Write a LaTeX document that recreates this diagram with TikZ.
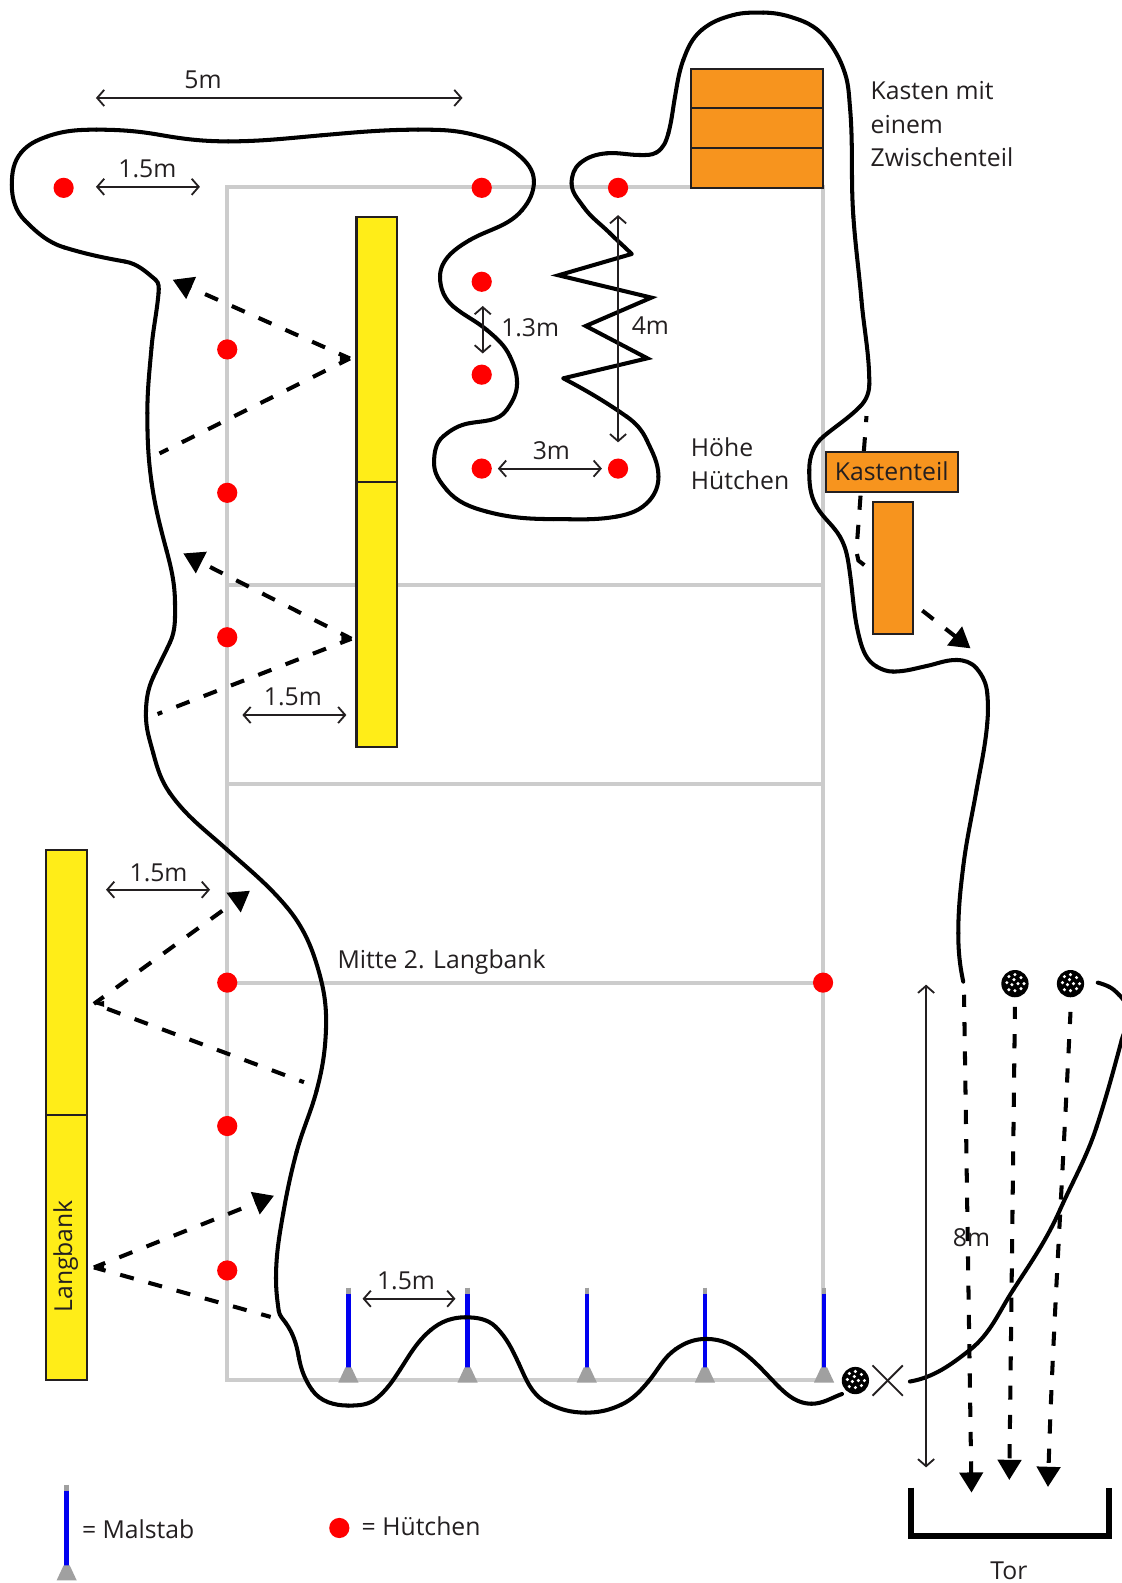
\documentclass[tikz,border=0pt]{standalone}
\usepackage{fontspec}
\setmainfont{Open Sans}
\usetikzlibrary{arrows.meta}
\definecolor{gridgrey}{RGB}{204,204,204}
\definecolor{boxorange}{RGB}{247,148,30}
\definecolor{benchyellow}{RGB}{255,237,24}
\definecolor{poleblue}{RGB}{0,0,240}
\definecolor{conegrey}{RGB}{160,160,160}
\definecolor{inkdark}{RGB}{35,31,32}
\tikzset{
  gridline/.style={draw=gridgrey,line width=4pt},
  route/.style={draw=black,line width=4pt,line join=round,line cap=round},
  dashroute/.style={draw=black,line width=4pt,dash pattern=on 14pt off 15pt,dash phase=2pt,-{Triangle[length=20pt,width=23pt]}},
  dashplain/.style={draw=black,line width=4pt,dash pattern=on 14pt off 15pt,dash phase=2pt},
  measure/.style={draw=inkdark,line width=1.8pt,{Straight Barb[length=7pt,width=16pt,line width=1.8pt]}-{Straight Barb[length=7pt,width=16pt,line width=1.8pt]}},
  hut/.style={circle,fill=red,inner sep=0pt,minimum size=20pt},
  orangebox/.style={draw=inkdark,line width=2pt,fill=boxorange,inner sep=0pt},
  bench/.style={draw=inkdark,line width=2pt,fill=benchyellow},
  lbl/.style={inner sep=0pt,text=inkdark,font=\fontsize{24.5}{28}\selectfont},
  lblleft/.style={lbl,anchor=west},
  ballnode/.style={circle,fill=black,inner sep=0pt,minimum size=27pt},
}
\newcommand{\ballat}[3]{%
  \node[ballnode] (#1) at (#2,#3) {};
  \foreach \dx/\dy in {-6/-7,0/-9,6/-6,-1/-4,-8/-1,-3/1,3/0,9/0,-6/6,0/7,6/5}
    \fill[white] (#2+\dx,#3+\dy) circle (1.7pt);
}
\newcommand{\poleat}[3]{%
  \draw[conegrey,line width=4.4pt] (#1,#2) -- (#1,#2+6);
  \draw[poleblue,line width=4.4pt] (#1,#2+6) -- (#1,#3-12);
  \fill[conegrey] (#1-3,#3-14) -- (#1+3,#3-14) -- (#1+10,#3+1) -- (#1-10,#3+1) -- cycle;
}
% knots: x/y/heading in degrees, y pointing down the page
\newcommand{\knotcurve}[1]{%
  \foreach \kx/\ky/\ka [count=\ki, remember=\kx as \lx (initially 0), remember=\ky as \ly (initially 0), remember=\ka as \la (initially 0)] in {#1} {
    \ifnum\ki>1
      \pgfmathsetmacro\kd{veclen(\kx-\lx,\ky-\ly)*0.36}
      \draw[route] (\lx,\ly) .. controls ({\lx+\kd*cos(\la)},{\ly+\kd*sin(\la)}) and ({\kx-\kd*cos(\ka)},{\ky-\kd*sin(\ka)}) .. (\kx,\ky);
    \fi
  }
}
\begin{document}
\begin{tikzpicture}[x=1pt,y=-1pt]
\useasboundingbox (0,0) rectangle (1111,1567.5);
% grid
\draw[gridline] (225,185) rectangle (815,1366);
\draw[gridline] (225,579) -- (815,579);
\draw[gridline] (225,776) -- (815,776);
\draw[gridline] (225,973) -- (815,973);
% poles
\poleat{345}{1275}{1368}
\poleat{463}{1275}{1368}
\poleat{581}{1275}{1368}
\poleat{698}{1275}{1368}
\poleat{816}{1275}{1368}
\poleat{66}{1470}{1564}
% dashed helpers
\coordinate (a1) at (346.5,355); \coordinate (a1u) at (171,277); \coordinate (a1d) at (158,449);
\coordinate (a2) at (348,632.5); \coordinate (a2u) at (181.5,548); \coordinate (a2d) at (156,707);
\coordinate (a3) at (93,994);  \coordinate (a3u) at (247.5,882); \coordinate (a3d) at (301,1071.6);
\coordinate (a4) at (93,1255); \coordinate (a4u) at (271.3,1184); \coordinate (a4d) at (268,1304);
\draw[dashroute] (a1) -- (a1u);
\draw[dashplain] (a1) -- (a1d);
\draw[dashroute] (a2) -- (a2u);
\draw[dashplain] (a2) -- (a2d);
\draw[dashroute] (a3) -- (a3u);
\draw[dashplain,dash phase=15pt] (a3) -- (a3d);
\draw[dashroute] (a4) -- (a4u);
\draw[dashplain] (a4) -- (a4d);
\fill (a1) -- ++(-10,-3) -- ++(0,6) -- cycle;
\fill (a2) -- ++(-10,-3) -- ++(0,6) -- cycle;
\fill (a3) -- ++(10,-3) -- ++(0,6) -- cycle;
\fill (a4) -- ++(10,-3) -- ++(0,6) -- cycle;
% right dashed
\coordinate (r1) at (858,412); \coordinate (r2) at (848,546); \coordinate (r3) at (850,555); \coordinate (r4) at (961,642);
\draw[dashroute,dash phase=8pt] (r1) -- (r2) -- (r3) -- (r4);
% route
\knotcurve{833.8/1380.3/160, 803.5/1390/180, 771/1373/225, 737/1340/218, 699.3/1325.8/180, 669/1336/145, 642/1368/130, 615/1391/155, 580/1398.8/180, 540/1388/210, 513.6/1350/245, 491/1314/225, 460.6/1304.4/180, 426.5/1317/140, 396/1356.5/123, 373/1384.6/140, 345/1391.8/180, 309/1376.3/235, 295.7/1343/260, 283/1310/235, 276/1298/262, 273.3/1265.7/270, 280.5/1201/280, 293.7/1140.6/285, 313.5/1080/285, 322.8/1019/272, 316.8/966/255, 283.8/898/230, 224.4/841/222, 168/785/235, 151.8/746/255, 144.5/708.3/270, 151.8/670.3/295, 168.3/636.2/295, 173.3/598.4/270, 165/545.4/255, 150/477/262, 145.9/409/270, 150/344.5/275, 157/290/275, 154/277/220, 123.8/259/190, 63.6/245/197, 24.8/218.5/225, 11.7/183/270, 21/151/310, 46/135.4/340, 95.5/128.4/0, 159/133.7/10, 226/140/0, 318/134/355, 414/128.4/0, 470/133.7/15, 513/153/40, 528.7/179.6/90, 517/208/130, 465.4/237.6/150, 435.7/274/90, 449/303.6/40, 482/326.7/40, 505/353/65, 512/379.5/90, 501.7/406/125, 465/419/170, 439/432/140, 429.8/458.7/90, 442.3/485/50, 482/506.6/15, 548/514/0, 610.6/511.5/350, 643.6/495/310, 652/472/270, 640.3/435.6/245, 620.5/412.5/215, 557.8/374.6/208}
\draw[route,line join=miter,line cap=butt] (557.8,374.6) -- (641,354.8) -- (580,322.8) -- (645,294.7) -- (553,272.6) -- (625.5,251.5);
\knotcurve{625.5/251.5/225, 604/231/225, 577.6/204.6/235, 566/181.5/270, 574.3/161.7/320, 600.7/151.8/355, 633.7/153.5/0, 650/151/330, 661.8/132/285, 668.4/95.7/280, 676.6/59.4/290, 694.8/29.7/320, 726/14.9/345, 755.8/12.5/0, 792/19.8/20, 821.8/42.9/55, 836.7/72.6/72, 841.6/105.6/85, 845/214.5/86, 853/297/85, 860.8/380/90, 851.5/402.7/135, 815.2/432.4/140, 801.3/465.4/90, 808.6/501.7/60, 831.7/531.4/60, 841.6/567.7/82, 851.5/633.7/75, 868/660/30, 884.5/665/0, 917.5/659.5/348, 947/653.5/0, 967/661.8/50, 977.6/686.5/85, 977.6/716/95, 967/782/100, 953.8/858/97, 948.9/924/90, 953.8/972/78}
\knotcurve{901/1368/350, 960/1337/322, 1003.4/1277/303, 1049.6/1198/294, 1085.9/1115.6/288, 1110.7/1029.8/285, 1118/1005/270, 1108/985/225, 1098/977/205, 1087/973/195}
% bottom dashed arrows
\coordinate (b1) at (954.6,985); \coordinate (b1e) at (962,1478);
\coordinate (b2) at (1005,997); \coordinate (b2e) at (999.4,1465.5);
\coordinate (b3) at (1060,1002); \coordinate (b3e) at (1037.7,1472.4);
\draw[dashroute] (b1) -- (b1e);
\draw[dashroute] (b2) -- (b2e);
\draw[dashroute] (b3) .. controls (1052,1170) and (1042,1330) .. (b3e);
% benches
\draw[bench] (353,215) rectangle (393,477);
\draw[bench] (353,477) rectangle (393,740);
\draw[bench] (46,842) rectangle (86,1104);
\draw[bench] (46,1104) rectangle (86,1366);
% orange boxes
\draw[orangebox] (684,68) rectangle (815,107);
\draw[orangebox] (684,107) rectangle (815,147);
\draw[orangebox] (684,147) rectangle (815,186);
\draw[orangebox] (818,448) rectangle (949,487);
\draw[orangebox] (864,497) rectangle (904,628);
% huts
\foreach \n/\x/\y in {h1/63/186,h2/477/186,h3/612/186,h4/477/279,h5/477/371,h6/477/464,h7/612/464,h8/225/346,h9/225/488,h10/225/631,h11/225/973,h12/815/973,h13/225/1115,h14/225/1258,h15/336/1513}
  \node[hut] (\n) at (\x,\y) {};
% balls
\ballat{ball1}{847}{1367}
\ballat{ball2}{1005}{974}
\ballat{ball3}{1060}{974}
% cross
\coordinate (c1) at (864,1352); \coordinate (c2) at (894,1382);
\coordinate (c3) at (894,1352); \coordinate (c4) at (864,1382);
\draw[line width=1.8pt,draw=inkdark] (c1) -- (c2);
\draw[line width=1.8pt,draw=inkdark] (c3) -- (c4);
% measures
\coordinate (m1a) at (95,97); \coordinate (m1b) at (458,97);
\coordinate (m2a) at (95,185); \coordinate (m2b) at (198,185);
\coordinate (m3a) at (478,303); \coordinate (m3b) at (478,350);
\coordinate (m4a) at (612,213); \coordinate (m4b) at (612,438);
\coordinate (m5a) at (493,464); \coordinate (m5b) at (596,464);
\coordinate (m6a) at (240,708); \coordinate (m6b) at (343,708);
\coordinate (m7a) at (105,881); \coordinate (m7b) at (208,881);
\coordinate (m8a) at (917,975); \coordinate (m8b) at (917,1453);
\coordinate (m9a) at (359,1286); \coordinate (m9b) at (451,1286);
\foreach \m in {1,...,9} \draw[measure] (m\m a) -- (m\m b);
% goal
\coordinate (t1) at (902,1473); \coordinate (t2) at (902,1521);
\coordinate (t3) at (1098,1521); \coordinate (t4) at (1098,1473);
\draw[line width=6pt,line join=miter] (t1) -- (t2) -- (t3) -- (t4);
% labels
\node[lbl] (l1) at (201,79) {5m};
\node[lbl] (l2) at (146,167) {1.5m};
\node[lbl] (l3) at (525,325) {1.3m};
\node[lbl] (l4) at (644,322) {4m};
\node[lbl] (l5) at (546,446) {3m};
\node[lbl] (l6) at (290,690) {1.5m};
\node[lbl] (l7) at (157,864) {1.5m};
\node[lbl] (l8) at (962,1226) {8m};
\node[lbl] (l9) at (402,1268) {1.5m};
\node[lblleft] (k1) at (862,90) {Kasten mit};
\node[lblleft] (k2) at (862,123) {einem};
\node[lblleft] (k3) at (862,156) {Zwischenteil};
\node[lblleft] (h1t) at (684,443) {Höhe};
\node[lblleft] (h2t) at (684,476) {Hütchen};
\node[lbl] (kt) at (883,467) {Kastenteil};
\node[lblleft] (mt) at (334,953) {Mitte 2. Langbank};
\node[lbl,rotate=90] (lb) at (65,1244) {Langbank};
\node[lblleft] (leg1) at (81,1514) {= Malstab};
\node[lblleft] (leg2) at (358,1511) {= Hütchen};
\node[lbl] (tor) at (999,1555) {Tor};
\end{tikzpicture}
\end{document}
